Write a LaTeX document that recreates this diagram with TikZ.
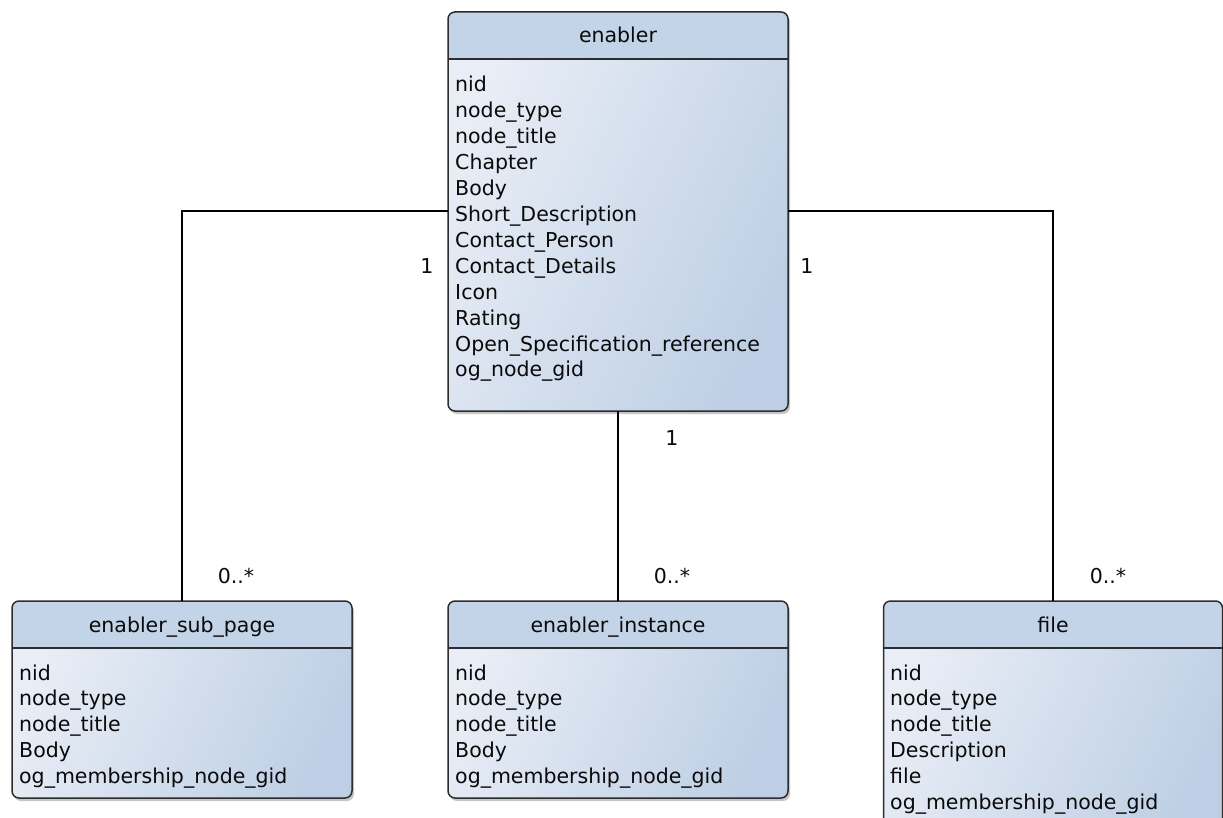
\documentclass[tikz,border=0pt]{standalone}
\usepackage{fontspec}
\setmainfont{DejaVu Sans}
\usetikzlibrary{shadows}
\definecolor{hdrcol}{RGB}{196,212,232}
\definecolor{bodytl}{RGB}{233,238,246}
\definecolor{bodybr}{RGB}{190,207,229}
\definecolor{bordercol}{RGB}{45,45,45}
\tikzset{
  classbox/.style={rectangle, rounded corners=7pt, inner sep=0pt, outer sep=0pt,
    shading=axis, left color=bodytl, right color=bodybr, shading angle=65,
    drop shadow={shadow xshift=2pt, shadow yshift=-3pt, opacity=0.22, fill=black}},
  boxborder/.style={draw=bordercol, line width=1.5pt, rounded corners=7pt},
  hdrline/.style={draw=bordercol, line width=1.5pt},
  uml/.style={font=\fontsize{20.5}{25.9}\selectfont, text=black!96, inner sep=0pt},
  attr/.style={uml, anchor=base west},
  title/.style={uml, anchor=base},
  mult/.style={uml, anchor=base},
  conn/.style={draw=black, line width=1.3pt}
}
\begin{document}
\begin{tikzpicture}[x=1pt, y=-1pt]
\useasboundingbox (0,0) rectangle (1223,818);
\begin{scope}
\clip (0,0) rectangle (1223,818);

\coordinate (cl) at (182,211);
\coordinate (cr) at (1053,211);

% ---------- enabler ----------
\node[classbox, minimum width=340pt, minimum height=399pt, anchor=north west] (en) at (448,12) {};
\coordinate (enh) at (448,59);
\fill[hdrcol, rounded corners=7pt] (en.west |- enh) -- (en.north west) -- (en.north east) [sharp corners] -- (en.east |- enh) -- cycle;
\draw[hdrline] (en.west |- enh) -- (en.east |- enh);
\draw[boxborder] (en.north west) rectangle (en.south east);
\node[title] (en-t) at (618,43) {enabler};
\foreach \t [count=\i] in {nid,node\_type,node\_title,Chapter,Body,Short\_Description,Contact\_Person,Contact\_Details,Icon,Rating,Open\_Specification\_reference,og\_node\_gid}
  \node[attr] (en-\i) at (455,{92+(\i-1)*25.9}) {\t};

% ---------- enabler_sub_page ----------
\node[classbox, minimum width=340pt, minimum height=197pt, anchor=north west] (sp) at (12,601) {};
\coordinate (sph) at (12,648);
\fill[hdrcol, rounded corners=7pt] (sp.west |- sph) -- (sp.north west) -- (sp.north east) [sharp corners] -- (sp.east |- sph) -- cycle;
\draw[hdrline] (sp.west |- sph) -- (sp.east |- sph);
\draw[boxborder] (sp.north west) rectangle (sp.south east);
\node[title] (sp-t) at (182,632) {enabler\_sub\_page};
\foreach \t [count=\i] in {nid,node\_type,node\_title,Body,og\_membership\_node\_gid}
  \node[attr] (sp-\i) at (19,{680+(\i-1)*25.9}) {\t};

% ---------- enabler_instance ----------
\node[classbox, minimum width=340pt, minimum height=197pt, anchor=north west] (ei) at (448,601) {};
\coordinate (eih) at (448,648);
\fill[hdrcol, rounded corners=7pt] (ei.west |- eih) -- (ei.north west) -- (ei.north east) [sharp corners] -- (ei.east |- eih) -- cycle;
\draw[hdrline] (ei.west |- eih) -- (ei.east |- eih);
\draw[boxborder] (ei.north west) rectangle (ei.south east);
\node[title] (ei-t) at (618,632) {enabler\_instance};
\foreach \t [count=\i] in {nid,node\_type,node\_title,Body,og\_membership\_node\_gid}
  \node[attr] (ei-\i) at (455,{680+(\i-1)*25.9}) {\t};

% ---------- file ----------
\node[classbox, minimum width=339pt, minimum height=240pt, anchor=north west] (fi) at (883.5,601) {};
\coordinate (fih) at (883.5,648);
\fill[hdrcol, rounded corners=7pt] (fi.west |- fih) -- (fi.north west) -- (fi.north east) [sharp corners] -- (fi.east |- fih) -- cycle;
\draw[hdrline] (fi.west |- fih) -- (fi.east |- fih);
\draw[boxborder] (fi.north west) rectangle (fi.south east);
\node[title] (fi-t) at (1053,632) {file};
\foreach \t [count=\i] in {nid,node\_type,node\_title,Description,file,og\_membership\_node\_gid}
  \node[attr] (fi-\i) at (890,{680+(\i-1)*25.9}) {\t};

% ---------- connectors ----------
\draw[conn] (en.west |- cl) -- (cl) -- (cl |- sp.north);
\draw[conn] (en.east |- cr) -- (cr) -- (cr |- fi.north);
\draw[conn] (en.south) -- (ei.north);

% ---------- multiplicities ----------
\node[mult] (m1) at (427,273) {1};
\node[mult] (m2) at (807,273) {1};
\node[mult] (m3) at (672,445) {1};
\node[mult] (m4) at (236,583) {0..*};
\node[mult] (m5) at (672,583) {0..*};
\node[mult] (m6) at (1108,583) {0..*};
\end{scope}
\end{tikzpicture}
\end{document}
